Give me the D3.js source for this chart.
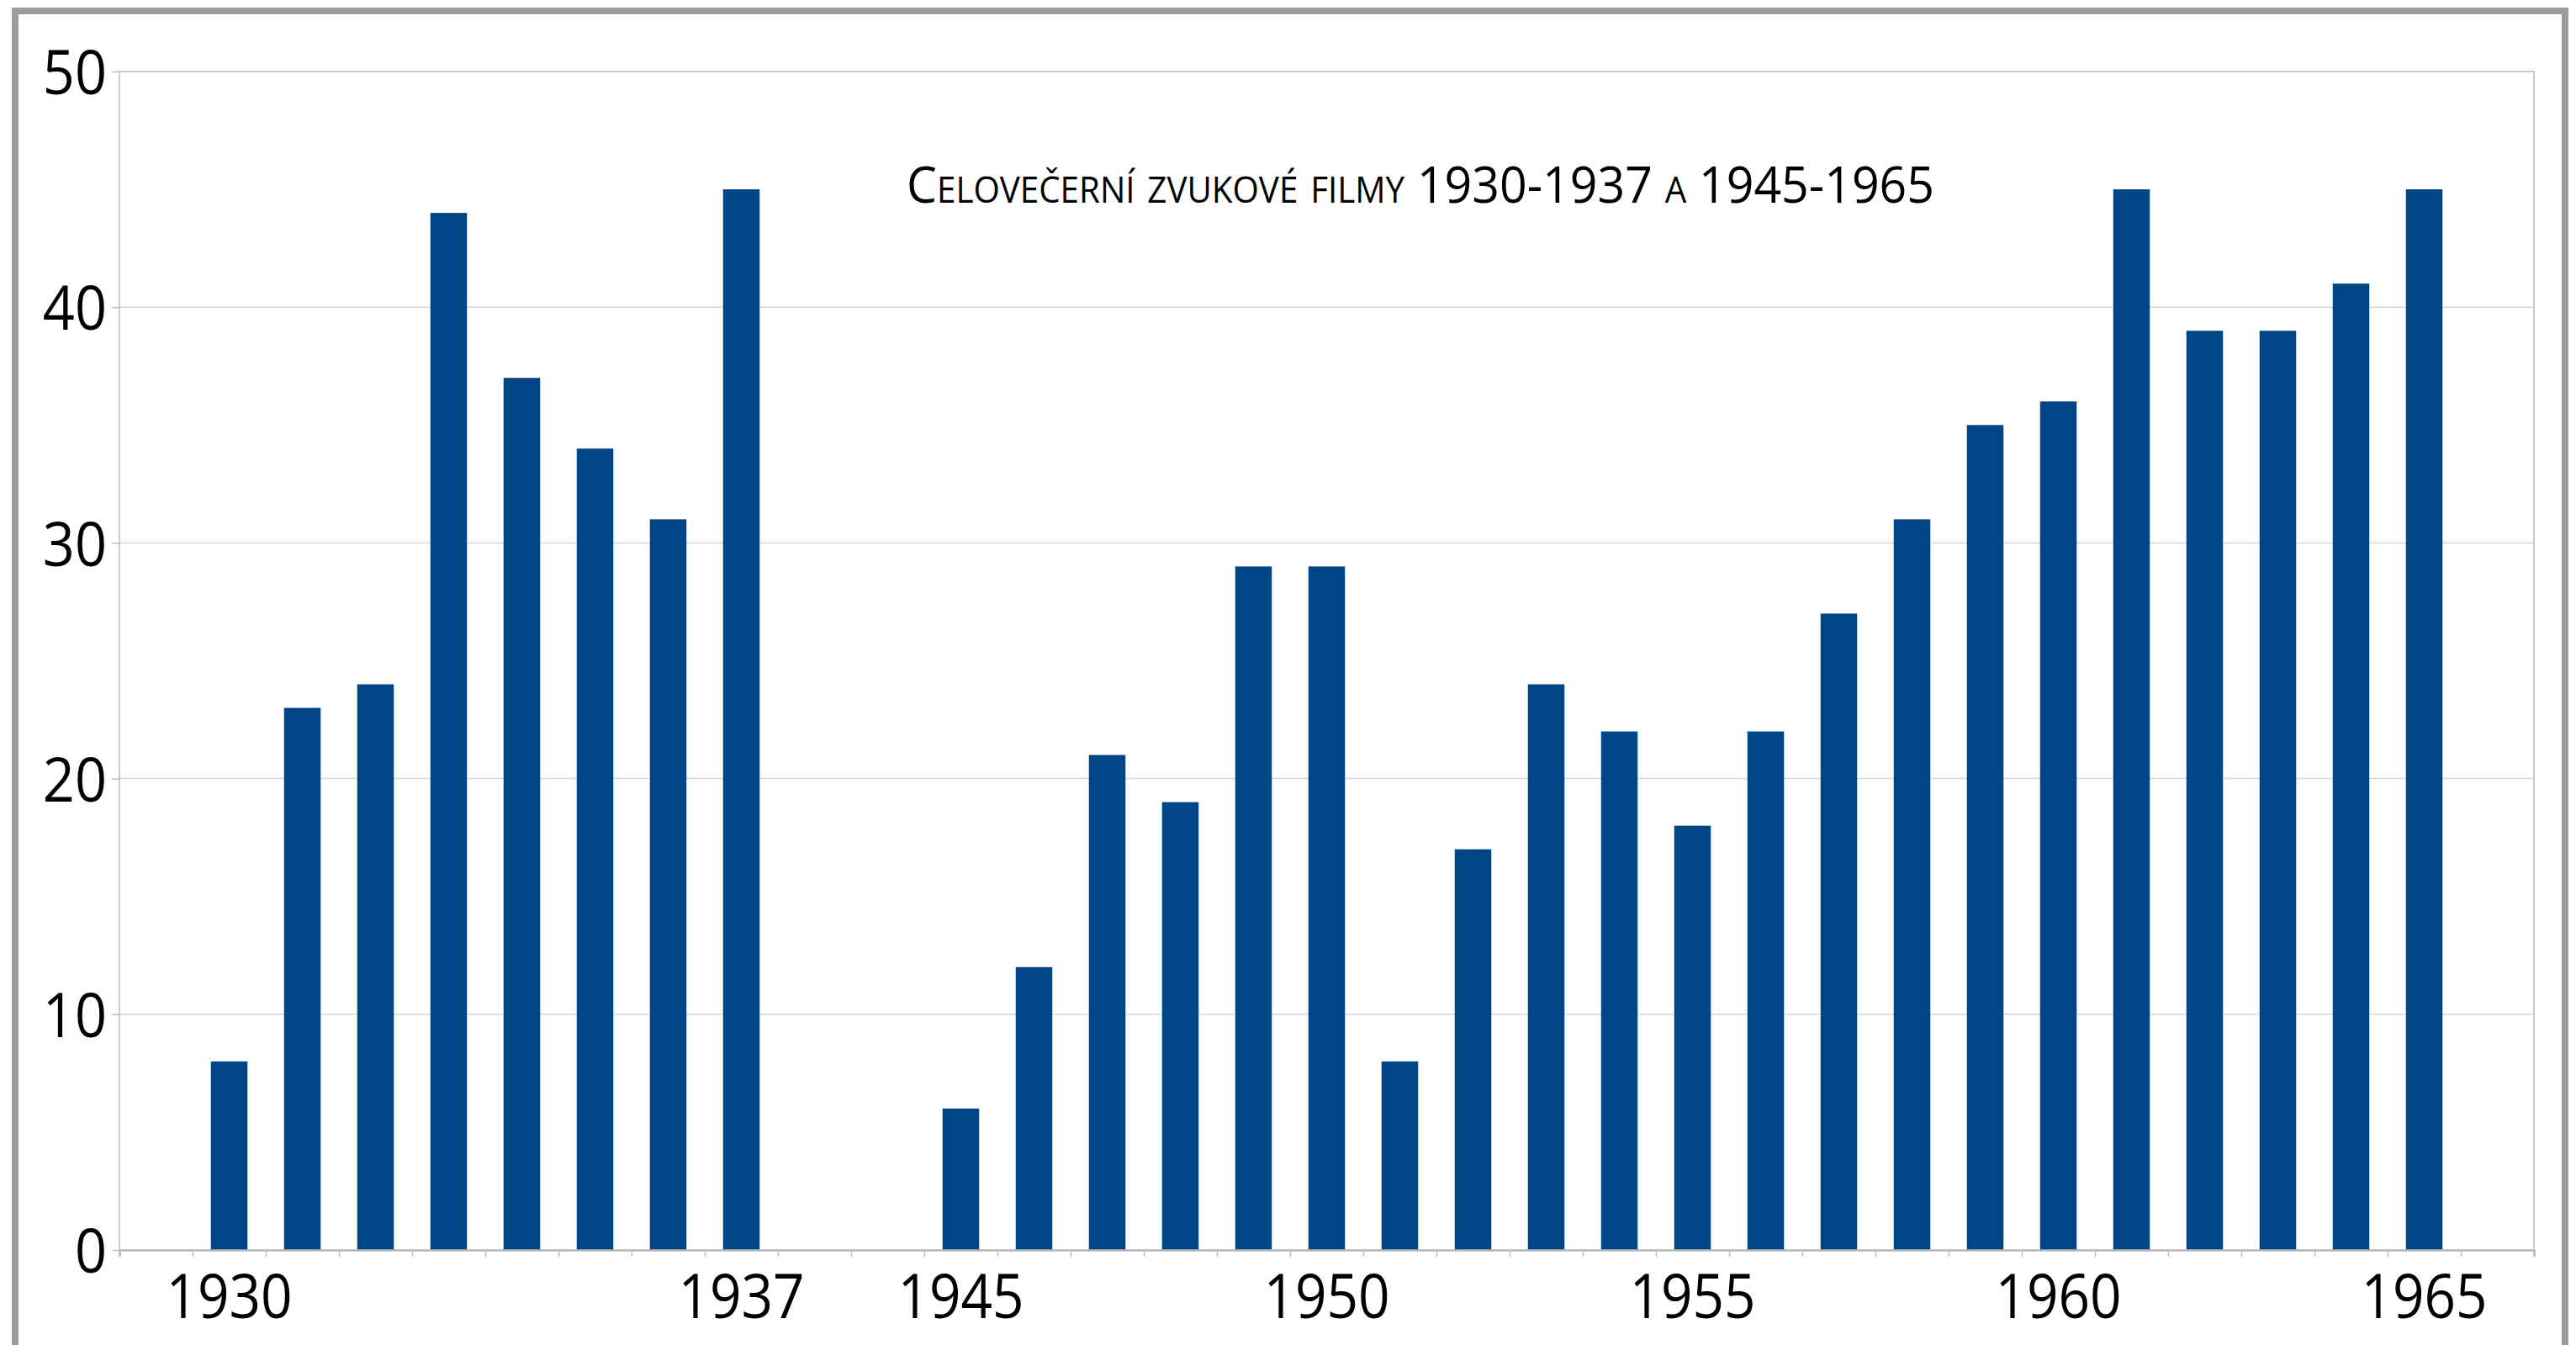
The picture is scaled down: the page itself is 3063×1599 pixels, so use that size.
<!DOCTYPE html>
<html>
<head>
<meta charset="utf-8">
<script src="https://cdn.jsdelivr.net/npm/d3@7"></script>
<style>
  body { margin: 0; background: #fff; }
  svg { display: block; }
  text { font-family: "Open Sans", "Noto Sans", sans-serif; fill: #000; }
</style>
</head>
<body>
<div id="chart"></div>
<script>
// Categories: empty slots are gaps in the axis
const categories = ["g0", "1930", "1931", "1932", "1933", "1934", "1935", "1936", "1937", "g1", "g2",
    "1945", "1946", "1947", "1948", "1949", "1950", "1951", "1952", "1953", "1954", "1955",
    "1956", "1957", "1958", "1959", "1960", "1961", "1962", "1963", "1964", "1965", "g3"];
const values = [null, 8, 23, 24, 44, 37, 34, 31, 45, null, null,
    6, 12, 21, 19, 29, 29, 8, 17, 24, 22, 18,
    22, 27, 31, 35, 36, 45, 39, 39, 41, 45, null];
const shownLabels = ["1930", "1937", "1945", "1950", "1955", "1960", "1965"];
const yTicks = [0, 10, 20, 30, 40, 50];
const title = "Celovečerní zvukové filmy 1930-1937 a 1945-1965";

const width = 3063, height = 1599;
const plot = { left: 142, right: 3013, top: 85, bottom: 1486 };
const squeeze = 0.9; // labels in the original are a bit narrow

const svg = d3.select("#chart").append("svg")
    .attr("width", width)
    .attr("height", height);

// outer frame (bottom edge is cut off in the original)
svg.append("rect")
    .attr("x", 18).attr("y", 13)
    .attr("width", 3032).attr("height", 1640)
    .attr("fill", "none")
    .attr("stroke", "#9c9c9c")
    .attr("stroke-width", 8);

const x = d3.scaleBand()
    .domain(categories)
    .range([plot.left, plot.right])
    .paddingInner(0.5)
    .paddingOuter(0.25);

const slot = d3.scaleLinear()
    .domain([0, categories.length])
    .range([plot.left, plot.right]);

const y = d3.scaleLinear()
    .domain([0, 50])
    .range([plot.bottom, plot.top]);

// gridlines
svg.append("g")
    .selectAll("line")
    .data(yTicks.filter(d => d > 0 && d < 50))
    .join("line")
    .attr("x1", plot.left).attr("x2", plot.right)
    .attr("y1", d => y(d)).attr("y2", d => y(d))
    .attr("stroke", "#d6d6d6")
    .attr("stroke-width", 1.5);

// plot frame: top, left, right
svg.append("path")
    .attr("d", `M${plot.left},${plot.bottom}V${plot.top}H${plot.right}V${plot.bottom}`)
    .attr("fill", "none")
    .attr("stroke", "#bcbcbc")
    .attr("stroke-width", 1.5);

// bars
svg.append("g")
    .attr("fill", "#004586")
    .selectAll("rect")
    .data(categories.map((c, i) => ({ c, v: values[i] })).filter(d => d.v != null))
    .join("rect")
    .attr("x", d => x(d.c))
    .attr("width", x.bandwidth())
    .attr("y", d => y(d.v))
    .attr("height", d => y(0) - y(d.v));

// y axis
const yAxis = svg.append("g")
    .attr("transform", `translate(${plot.left},0)`)
    .call(d3.axisLeft(y).tickValues(yTicks).tickSize(9).tickPadding(0));
yAxis.select(".domain").remove();
yAxis.selectAll(".tick line").attr("stroke", "#bcbcbc").attr("stroke-width", 1.5);
yAxis.selectAll(".tick text")
    .attr("x", null)
    .attr("transform", `translate(-15,0) scale(${squeeze},1)`)
    .attr("font-size", 74)
    .attr("dy", "0.36em");

// x axis: ticks on slot boundaries
const xTicks = svg.append("g")
    .attr("transform", `translate(0,${plot.bottom})`)
    .call(d3.axisBottom(slot).tickValues(d3.range(categories.length + 1)).tickSize(8).tickFormat(""));
xTicks.select(".domain").attr("stroke", "#b4b4b4").attr("stroke-width", 2.5);
xTicks.selectAll(".tick line").attr("stroke", "#bcbcbc").attr("stroke-width", 1.5);

// x axis labels
const xAxis = svg.append("g")
    .attr("transform", `translate(0,${plot.bottom})`)
    .call(d3.axisBottom(x).tickSize(0).tickPadding(0)
        .tickFormat(d => shownLabels.includes(d) ? d : ""));
xAxis.select(".domain").remove();
xAxis.selectAll(".tick text")
    .attr("y", null)
    .attr("dy", null)
    .attr("transform", `translate(0,81) scale(${squeeze},1)`)
    .attr("font-size", 73);

// title in small caps
svg.append("text")
    .attr("x", 1078)
    .attr("y", 241)
    .attr("font-size", 61)
    .style("font-variant", "small-caps")
    .attr("textLength", 1222)
    .attr("lengthAdjust", "spacingAndGlyphs")
    .text(title);
</script>
</body>
</html>
